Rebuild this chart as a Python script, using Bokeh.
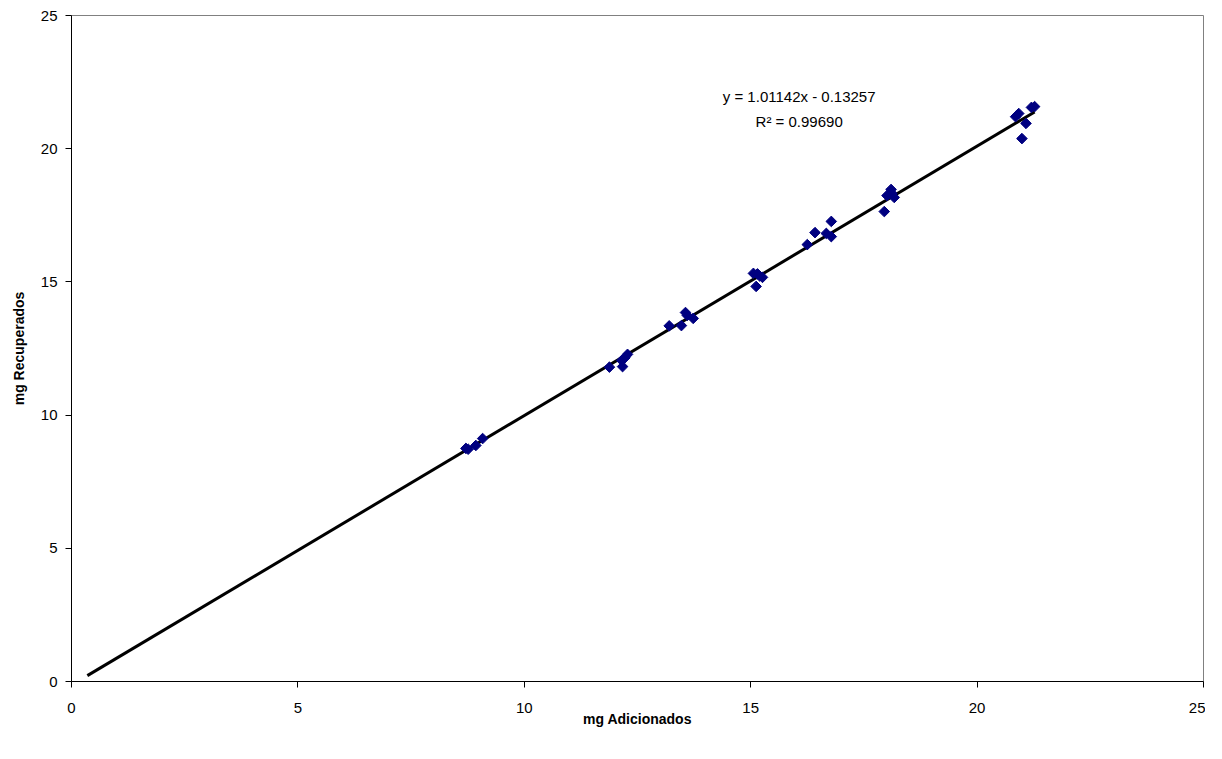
import numpy as np
from bokeh.plotting import figure
from bokeh.models import ColumnDataSource, Range1d, FixedTicker
from bokeh.embed import file_html
from bokeh.resources import INLINE
from bokeh.core.properties import value

# Data
mg_adicionados = [8.71, 8.76, 8.93, 9.08,
                  11.88, 12.15, 12.17, 12.22, 12.28,
                  13.20, 13.47, 13.56, 13.60, 13.73,
                  15.06, 15.15, 15.12, 15.26, 15.20,
                  16.25, 16.42, 16.67, 16.78, 16.78,
                  17.95, 18.01, 18.10, 18.12, 18.17,
                  20.85, 20.92, 20.99, 21.08, 21.20, 21.27]
mg_recuperados = [8.75, 8.72, 8.86, 9.12,
                  11.80, 12.05, 11.82, 12.15, 12.28,
                  13.35, 13.36, 13.85, 13.74, 13.63,
                  15.32, 15.30, 14.83, 15.17, 15.22,
                  16.40, 16.85, 16.82, 16.70, 17.27,
                  17.64, 18.24, 18.47, 18.32, 18.17,
                  21.20, 21.32, 20.38, 20.95, 21.55, 21.58]

slope = 1.01142
intercept = -0.13257
r2 = 0.99690
trend_x = [0.35, 21.27]
trend_y = [slope * v + intercept for v in trend_x]

ticks = [0, 5, 10, 15, 20, 25]

FONT = "Liberation Sans"

p = figure(width=1205, height=742, output_backend="svg", toolbar_location=None,
           x_range=Range1d(0, 25), y_range=Range1d(0, 25),
           min_border_left=71, min_border_right=2, min_border_top=15, min_border_bottom=61)
p.background_fill_color = "white"
p.border_fill_color = "white"
p.outline_line_color = "#808080"
p.outline_line_width = 1
p.grid.visible = False

for ax in (p.xaxis[0], p.yaxis[0]):
    ax.ticker = FixedTicker(ticks=ticks)
    ax.axis_line_color = "black"
    ax.axis_line_width = 1
    ax.major_tick_line_color = "black"
    ax.major_tick_in = 0
    ax.major_tick_out = 6
    ax.minor_tick_line_color = None
    ax.major_label_text_font = FONT
    ax.major_label_text_font_size = "15px"
    ax.major_label_text_color = "black"
    ax.axis_label_text_font = FONT
    ax.axis_label_text_font_size = "14px"
    ax.axis_label_text_font_style = "bold"
    ax.axis_label_text_color = "black"

p.xaxis.axis_label = "mg Adicionados"
p.yaxis.axis_label = "mg Recuperados"
p.xaxis.major_label_standoff = 15
p.yaxis.major_label_standoff = 8
p.xaxis.axis_label_standoff = -5
p.yaxis.axis_label_standoff = 11

src = ColumnDataSource(dict(x=mg_adicionados, y=mg_recuperados))
p.line(trend_x, trend_y, line_color="black", line_width=3)
p.scatter("x", "y", source=src, marker="square", angle=np.pi / 4, size=7.5,
          fill_color="#000080", line_color="#000080")

p.text(x=[16.07], y=[21.95], text=["y = 1.01142x - 0.13257"], text_font=value(FONT),
       text_font_size="15px", text_align="center", text_baseline="middle", text_color="black")
p.text(x=[16.07], y=[21.01], text=["R² = 0.99690"], text_font=value(FONT),
       text_font_size="15px", text_align="center", text_baseline="middle", text_color="black")

open("out.html", "w").write(file_html(p, INLINE))
